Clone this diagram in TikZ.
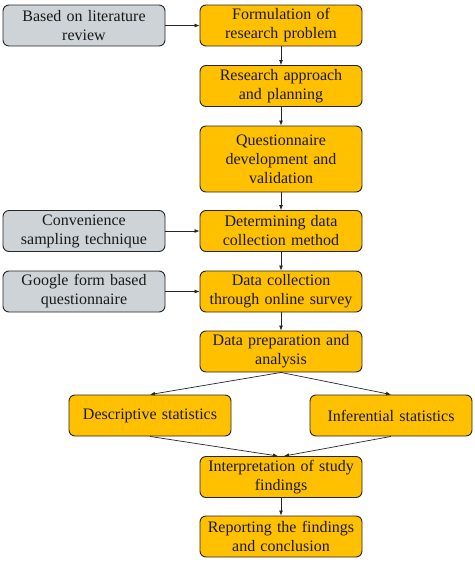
\documentclass[tikz,border=0pt]{standalone}
\usepackage{fontspec}
\setmainfont{Liberation Serif}[WordSpace={1.3}]
\usetikzlibrary{arrows.meta}
\definecolor{boxor}{HTML}{FFC000}
\definecolor{boxgr}{HTML}{CDD3D6}
\begin{document}
\begin{tikzpicture}[x=1pt,y=-1pt,
  base/.style={draw=black!85,line width=0.9pt,rounded corners=6pt,minimum width=162pt,minimum height=41pt,inner sep=2pt,align=center,font=\fontsize{16}{19}\selectfont,text=black!90},
  ob/.style={base,fill=boxor},
  gb/.style={base,fill=boxgr},
  arr/.style={-{Latex[length=5pt,width=4pt]},line width=0.7pt,black!85}]
\useasboundingbox (0,0) rectangle (474,565);
\node[gb] (g1) at (84,25.5) {Based on literature\\review};
\node[ob] (a1) at (281,25.5) {Formulation of\\research problem};
\node[ob] (a2) at (281,86) {Research approach\\and planning};
\node[ob,minimum height=66pt] (a3) at (281,159) {Questionnaire\\development and\\validation};
\node[ob] (a4) at (281,231) {Determining data\\collection method};
\node[gb] (g2) at (84,231) {Convenience\\sampling technique};
\node[ob] (a5) at (281,291.5) {Data collection\\through online survey};
\node[gb] (g3) at (84,291.5) {Google form based\\questionnaire};
\node[ob] (a6) at (281,351.5) {Data preparation and\\analysis};
\node[ob] (d) at (150,415.5) {Descriptive statistics};
\node[ob] (i) at (391,415.5) {Inferential statistics};
\node[ob] (a7) at (281,477) {Interpretation of study\\findings};
\node[ob] (a8) at (281,536.5) {Reporting the findings\\and conclusion};
\draw[arr] (g1) -- (a1);
\draw[arr] (g2) -- (a4);
\draw[arr] (g3) -- (a5);
\draw[arr] (a1) -- (a2);
\draw[arr] (a2) -- (a3);
\draw[arr] (a3) -- (a4);
\draw[arr] (a4) -- (a5);
\draw[arr] (a5) -- (a6);
\draw[arr] (a6.south) -- (d.north);
\draw[arr] (a6.south) -- (i.north);
\draw[arr] (d.south) -- ([xshift=-3pt]a7.north);
\draw[arr] (i.south) -- ([xshift=3pt]a7.north);
\draw[arr] (a7) -- (a8);
\end{tikzpicture}
\end{document}
